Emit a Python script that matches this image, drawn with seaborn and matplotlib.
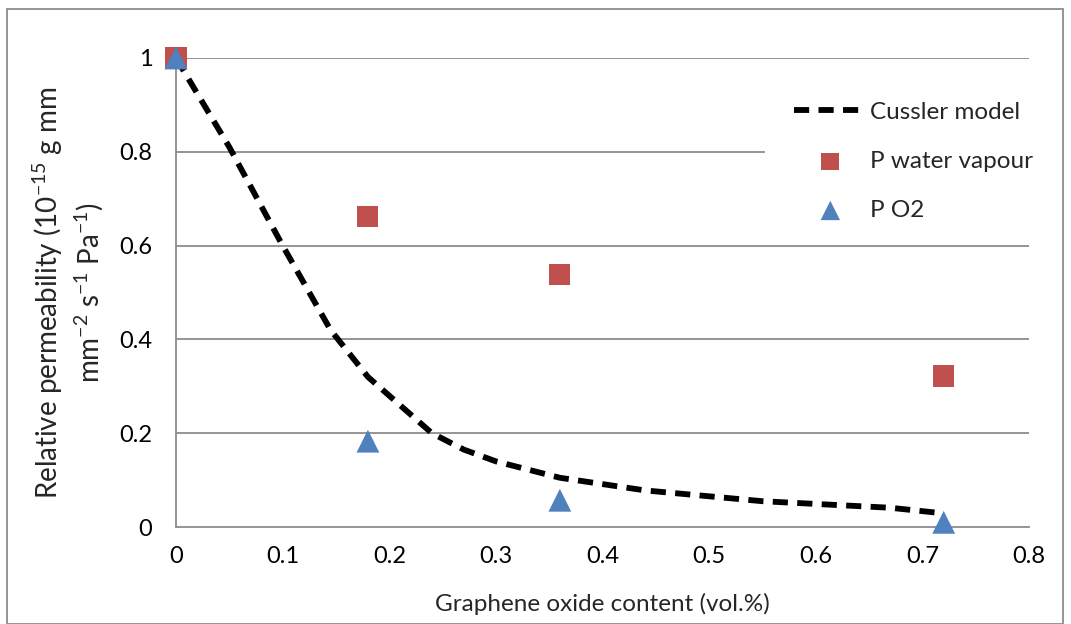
import matplotlib
matplotlib.use("Agg")
import matplotlib.pyplot as plt
import seaborn as sns
import pandas as pd
from matplotlib.patches import Rectangle

# ---- data ----
model_x = [0, 0.05, 0.1, 0.145, 0.18, 0.21, 0.24, 0.27, 0.30, 0.36, 0.44, 0.55, 0.67, 0.72]
model_y = [1.0, 0.81, 0.60, 0.42, 0.32, 0.26, 0.20, 0.165, 0.14, 0.105, 0.078, 0.055, 0.041, 0.029]

meas_x = [0, 0.18, 0.36, 0.72]
water_y = [1.0, 0.663, 0.539, 0.322]
o2_y = [1.0, 0.183, 0.057, 0.010]

x_ticks = [0, 0.1, 0.2, 0.3, 0.4, 0.5, 0.6, 0.7, 0.8]
y_ticks = [0, 0.2, 0.4, 0.6, 0.8, 1.0]
x_labels = ["0", "0.1", "0.2", "0.3", "0.4", "0.5", "0.6", "0.7", "0.8"]
y_labels = ["0", "0.2", "0.4", "0.6", "0.8", "1"]

sns.set_theme(style="white")
plt.rcParams["font.family"] = ["Lato", "DejaVu Sans"]
plt.rcParams["mathtext.fontset"] = "custom"
plt.rcParams["mathtext.rm"] = "Lato"
plt.rcParams["mathtext.it"] = "Lato"

W, H = 1071, 624
fig = plt.figure(figsize=(W / 100, H / 100), dpi=100)
ax = fig.add_axes([176 / W, 1 - 527 / H, (1029 - 176) / W, (527 - 58) / H])

model_df = pd.DataFrame({"x": model_x, "y": model_y})
water_df = pd.DataFrame({"x": meas_x, "y": water_y})
o2_df = pd.DataFrame({"x": meas_x, "y": o2_y})

grid_c = "#8c8c8c"
for yt in y_ticks[1:]:
    ax.axhline(yt, color=grid_c, lw=1.3, zorder=0)

sns.lineplot(data=model_df, x="x", y="y", ax=ax, color="black", lw=4.2,
             linestyle=(0, (2.6, 1.6)), label="Cussler model", zorder=3,
             clip_on=False)
sns.scatterplot(data=water_df, x="x", y="y", ax=ax, color="#C0504D", marker="s",
                s=230, edgecolor="none", label="P water vapour", zorder=4,
                clip_on=False)
sns.scatterplot(data=o2_df, x="x", y="y", ax=ax, color="#4F81BD", marker="^",
                s=270, edgecolor="none", label="P O2", zorder=5, clip_on=False)

ax.set_xlim(0, 0.8)
ax.set_ylim(0, 1)
ax.set_xticks(x_ticks)
ax.set_xticklabels(x_labels)
ax.set_yticks(y_ticks)
ax.set_yticklabels(y_labels)
ax.tick_params(axis="both", which="both", direction="out", length=7, width=1.3,
               color=grid_c, labelsize=17, labelcolor="black")
ax.tick_params(axis="x", pad=7)
ax.tick_params(axis="y", pad=10)

for side in ["top", "right"]:
    ax.spines[side].set_visible(False)
for side in ["left", "bottom"]:
    ax.spines[side].set_color(grid_c)
    ax.spines[side].set_linewidth(1.3)

ax.set_xlabel("Graphene oxide content (vol.%)", fontsize=17.5, labelpad=18)
ax.set_ylabel("Relative permeability (10$^{\u221215}$ g mm\nmm$^{\u22122}$ s$^{\u22121}$ Pa$^{\u22121}$)",
              fontsize=20, labelpad=10, linespacing=1.3)

# white background block behind the legend (covers part of the 0.8 gridline)
ax.add_patch(Rectangle((765 / W, 1 - 232 / H), (1040 - 765) / W, (232 - 86) / H,
                       transform=fig.transFigure, facecolor="white",
                       edgecolor="none", zorder=1, clip_on=False))

leg = ax.legend(loc="upper left", bbox_to_anchor=(772 / W, 1 - 80 / H),
                bbox_transform=fig.transFigure, frameon=False, fontsize=17.5,
                labelspacing=1.15, handlelength=3.0, handletextpad=0.15,
                borderpad=0.4, markerscale=0.85)
leg.set_zorder(6)

fig.patches.append(Rectangle((7 / W, 0.0), (1063 - 7) / W, 1 - 9 / H,
                             transform=fig.transFigure, fill=False,
                             edgecolor="#8c8c8c", lw=1.3))

fig.savefig("out.png", dpi=100)
